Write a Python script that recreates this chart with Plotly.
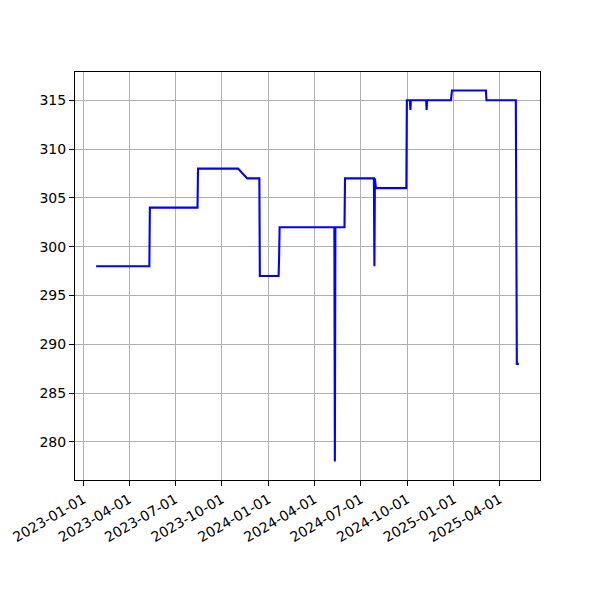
import plotly.graph_objects as go
import pandas as pd

dates = [
    "2023-01-26", "2023-05-11", "2023-05-12", "2023-08-14", "2023-08-15",
    "2023-11-02", "2023-11-20", "2023-12-14", "2023-12-15", "2024-01-21",
    "2024-01-22", "2024-01-23", "2024-05-10", "2024-05-11", "2024-05-12",
    "2024-05-30", "2024-05-31", "2024-07-27", "2024-07-28", "2024-07-29",
    "2024-07-31", "2024-09-29", "2024-09-30", "2024-10-06", "2024-10-07",
    "2024-10-08", "2024-11-07", "2024-11-08", "2024-11-09", "2024-12-26",
    "2024-12-28", "2025-03-05", "2025-03-06", "2025-05-03", "2025-05-05",
    "2025-05-09",
]
values = [
    298, 298, 304, 304, 308,
    308, 307, 307, 297, 297,
    299, 302, 302, 278, 302,
    302, 307, 307, 298, 307,
    306, 306, 315, 315, 314,
    315, 315, 314, 315, 315,
    316, 316, 315, 315, 288,
    288,
]
tick_dates = ["2023-01-01", "2023-04-01", "2023-07-01", "2023-10-01", "2024-01-01",
              "2024-04-01", "2024-07-01", "2024-10-01", "2025-01-01", "2025-04-01"]
y_ticks = [280, 285, 290, 295, 300, 305, 310, 315]

d = pd.to_datetime(dates)
span = d.max() - d.min()
x_range = [d.min() - 0.05 * span, d.max() + 0.05 * span]
vspan = max(values) - min(values)
y_range = [min(values) - 0.05 * vspan, max(values) + 0.05 * vspan]

fig = go.Figure()
fig.add_trace(go.Scatter(x=d, y=values, mode="lines",
                         line=dict(color="#0000ff", width=2.1)))

axis_common = dict(
    showline=True, linecolor="black", linewidth=1.1, mirror=True,
    showgrid=True, gridcolor="#b0b0b0", gridwidth=1,
    ticks="outside", ticklen=5, tickwidth=1.1, tickcolor="black",
    zeroline=False, tickfont=dict(family="DejaVu Sans", size=14, color="black"),
)

fig.update_layout(
    width=600, height=600,
    margin=dict(l=67, r=68, t=64, b=128),
    paper_bgcolor="white", plot_bgcolor="white",
    showlegend=False,
    xaxis=dict(range=x_range, tickvals=pd.to_datetime(tick_dates),
               ticktext=tick_dates, tickangle=-30, automargin=False, **axis_common),
    yaxis=dict(range=y_range, tickvals=y_ticks, automargin=False, **axis_common),
)

fig.write_html("out.html")
